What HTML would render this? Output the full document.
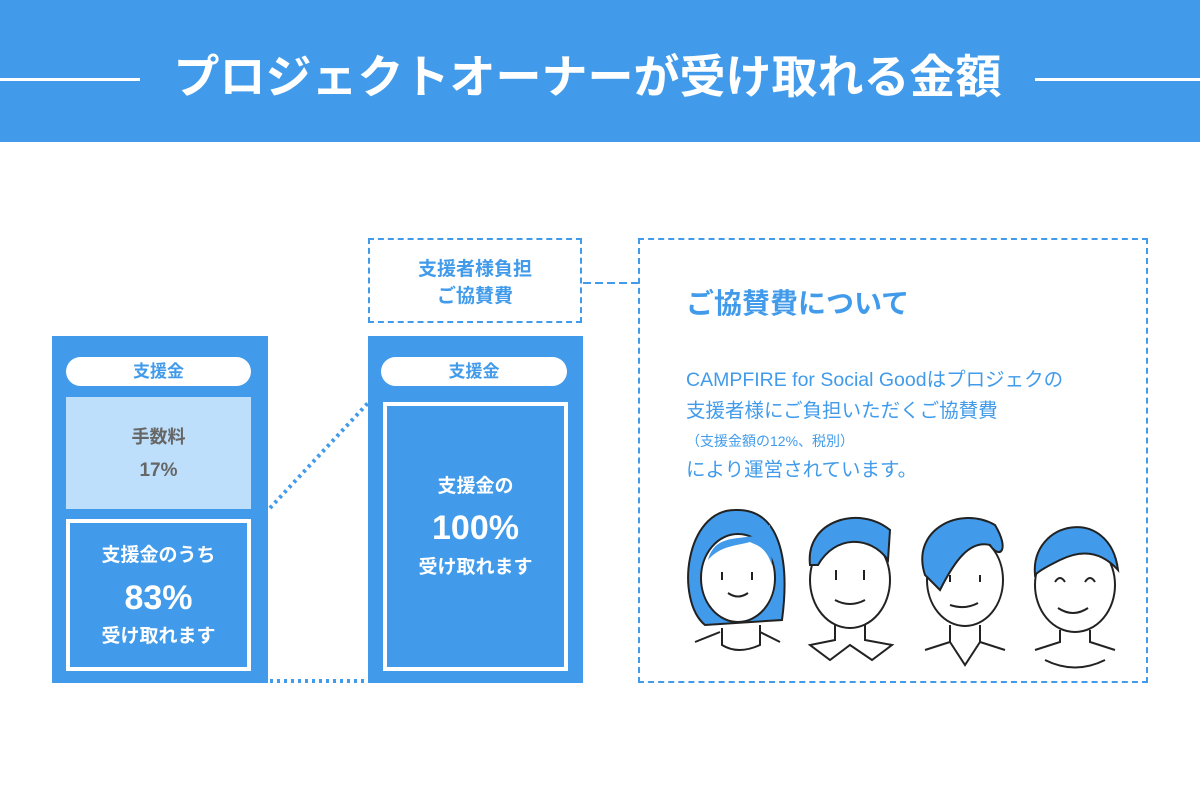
<!DOCTYPE html>
<html><head><meta charset="utf-8"><style>
*{margin:0;padding:0;box-sizing:border-box}
body{width:1200px;height:800px;background:#fff;position:relative;overflow:hidden;font-family:"Liberation Sans","Noto Sans CJK JP",sans-serif}
.a{position:absolute}
.c{text-align:center;font-weight:bold}
.blue{background:#419BEA}
.pill{background:#fff;border-radius:15px;color:#419BEA;font-size:17px;line-height:29px;text-align:center;font-weight:bold}
</style></head><body>
<div class="a blue" style="left:0;top:0;width:1200px;height:142px"></div>
<div class="a" style="left:0;top:78px;width:140px;height:3px;background:#fff"></div>
<div class="a" style="left:1035px;top:78px;width:165px;height:3px;background:#fff"></div>
<div class="a c" style="left:140px;top:46px;width:895px;color:#fff;font-size:46px;line-height:62px;white-space:nowrap">プロジェクトオーナーが受け取れる金額</div>

<!-- left box -->
<div class="a blue" style="left:52px;top:336px;width:216px;height:347px"></div>
<div class="a pill" style="left:66px;top:357px;width:185px;height:29px">支援金</div>
<div class="a" style="left:66px;top:397px;width:185px;height:112px;background:#BEDFFB"></div>
<div class="a c" style="left:66px;top:424px;width:185px;color:#666;font-size:18px;line-height:26px">手数料</div>
<div class="a c" style="left:66px;top:458px;width:185px;color:#666;font-size:19px;line-height:26px">17%</div>
<div class="a" style="left:66px;top:519px;width:185px;height:152px;border:4px solid #fff"></div>
<div class="a c" style="left:66px;top:542px;width:185px;color:#fff;font-size:19px;line-height:28px">支援金のうち</div>
<div class="a c" style="left:66px;top:578px;width:185px;color:#fff;font-size:34px;line-height:40px">83%</div>
<div class="a c" style="left:66px;top:623px;width:185px;color:#fff;font-size:19px;line-height:28px">受け取れます</div>

<!-- middle box -->
<div class="a blue" style="left:368px;top:336px;width:215px;height:347px"></div>
<div class="a pill" style="left:381px;top:357px;width:186px;height:29px">支援金</div>
<div class="a" style="left:383px;top:402px;width:185px;height:269px;border:4px solid #fff"></div>
<div class="a c" style="left:383px;top:473px;width:185px;color:#fff;font-size:19px;line-height:28px">支援金の</div>
<div class="a c" style="left:383px;top:508px;width:185px;color:#fff;font-size:34px;line-height:40px">100%</div>
<div class="a c" style="left:383px;top:554px;width:185px;color:#fff;font-size:19px;line-height:28px">受け取れます</div>

<!-- top dashed -->
<div class="a" style="left:368px;top:238px;width:214px;height:85px;border:2px dashed #419BEA"></div>
<div class="a c" style="left:368px;top:256px;width:214px;color:#419BEA;font-size:19px;line-height:27px">支援者様負担<br>ご協賛費</div>

<svg class="a" style="left:0;top:0" width="1200" height="800">
<line x1="270" y1="508" x2="368" y2="403" stroke="#419BEA" stroke-width="4" stroke-dasharray="3 4"/>
<line x1="270" y1="681" x2="368" y2="681" stroke="#419BEA" stroke-width="4" stroke-dasharray="3 4"/>
<line x1="583" y1="283" x2="638" y2="283" stroke="#419BEA" stroke-width="2" stroke-dasharray="8 4"/>
</svg>

<div class="a" style="left:638px;top:238px;width:510px;height:445px;border:2px dashed #419BEA"></div>
<div class="a" style="left:686px;top:285px;color:#419BEA;font-size:28px;font-weight:bold;line-height:38px">ご協賛費について</div>
<div class="a" style="left:686px;top:365px;color:#419BEA;font-size:19.5px;line-height:31px;white-space:nowrap">CAMPFIRE for Social Goodはプロジェクの<br>支援者様にご負担いただくご協賛費</div>
<div class="a" style="left:686px;top:430px;color:#419BEA;font-size:14px;line-height:22px">（支援金額の12%、税別）</div>
<div class="a" style="left:686px;top:456px;color:#419BEA;font-size:19.5px;line-height:28px">により運営されています。</div>

<svg class="a" style="left:660px;top:490px" width="480" height="190" fill="none" stroke="#222" stroke-width="2">
<!-- face 1 -->
<path d="M45 135 C15 110 25 20 75 20 C120 18 130 70 122 130 Z" fill="#419BEA"/>
<ellipse cx="78" cy="88" rx="37" ry="44" fill="#fff"/>
<path d="M48 70 C55 45 75 50 100 45 C105 40 108 35 110 35 L112 75 C105 55 95 55 90 52 C75 56 60 56 48 70 Z" fill="#419BEA" stroke="none"/>
<path d="M62 138 V155 Q78 165 100 155 V135 M35 152 L60 142 M100 142 L120 152"/>
<path d="M68 103 Q78 110 88 103 M62 82 V90 M92 82 V90"/>
<!-- face 2 -->
<ellipse cx="190" cy="90" rx="40" ry="48" fill="#fff"/>
<path d="M150 75 C145 30 200 15 230 40 L228 70 C210 45 175 45 158 75 Z" fill="#419BEA"/>
<path d="M175 110 Q190 118 205 110 M176 80 V90 M204 80 V90 M175 135 V150 L150 155 L170 170 L190 155 L212 170 L232 155 L205 150 V135"/>
<!-- face 3 -->
<ellipse cx="305" cy="90" rx="38" ry="46" fill="#fff"/>
<path d="M265 85 C250 40 300 15 335 35 C350 60 340 70 330 55 C310 50 295 70 280 100 Z" fill="#419BEA"/>
<path d="M290 115 Q305 120 318 113 M290 85 V92 M320 85 V92 M290 135 V152 L265 160 M320 135 V152 L345 160 M290 152 L305 175 L320 152"/>
<!-- face 4 -->
<ellipse cx="415" cy="95" rx="40" ry="47" fill="#fff"/>
<path d="M375 85 C370 30 450 15 458 80 C440 60 420 60 400 70 C390 75 380 80 375 85 Z" fill="#419BEA"/>
<path d="M398 118 Q413 128 428 118 M395 92 Q400 84 405 92 M425 92 Q430 84 435 92 M400 140 V152 L375 160 M430 140 V152 L455 160 M385 170 Q415 185 445 170"/>
</svg>
</body></html>
